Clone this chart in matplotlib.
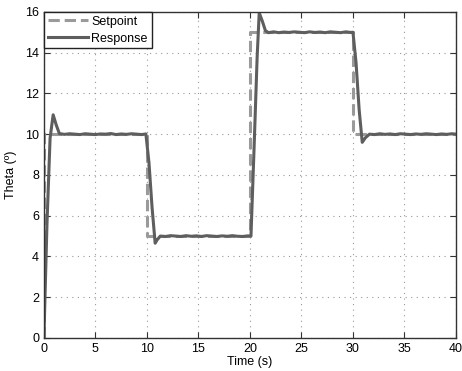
import matplotlib.pyplot as plt

plt.rcParams['font.family'] = ['Liberation Sans', 'DejaVu Sans']

# reference trajectory (step changes)
setpoint_t = [0, 0, 10, 10, 20, 20, 30, 30, 40]
setpoint_v = [0, 10, 10, 5, 5, 15, 15, 10, 10]

# measured angle
response_t = [
    0.0, 0.3, 0.6, 0.9, 1.2, 1.5, 2.0, 2.5, 3.0, 3.5, 4.0, 4.5, 5.0, 5.5,
    6.0, 6.5, 7.0, 7.5, 8.0, 8.5, 9.0, 9.5, 9.9,
    10.2, 10.5, 10.8, 11.0, 11.3, 11.8, 12.3, 12.8, 13.3, 13.8, 14.3, 14.8,
    15.3, 15.8, 16.3, 16.8, 17.3, 17.8, 18.3, 18.8, 19.3, 19.8, 20.1,
    20.4, 20.7, 20.9, 21.2, 21.5, 21.8, 22.3, 22.8, 23.3, 23.8, 24.3, 24.8,
    25.3, 25.8, 26.3, 26.8, 27.3, 27.8, 28.3, 28.8, 29.3, 29.8, 30.0,
    30.3, 30.6, 30.9, 31.2, 31.6, 32.1, 32.6, 33.1, 33.6, 34.1, 34.6,
    35.1, 35.6, 36.1, 36.6, 37.1, 37.6, 38.1, 38.6, 39.1, 39.6, 40.0,
]
response_v = [
    0.0, 5.6, 9.8, 10.95, 10.45, 10.03, 9.99, 10.02, 10.0, 9.98, 10.02, 10.0, 9.98, 10.01,
    10.0, 10.03, 9.98, 10.01, 9.99, 10.02, 10.0, 9.98, 10.01,
    8.6, 6.4, 4.65, 4.82, 5.0, 4.98, 5.02, 5.0, 4.98, 5.02, 4.99, 5.01,
    4.98, 5.02, 5.0, 4.98, 5.01, 4.99, 5.02, 4.99, 4.98, 5.01, 5.0,
    9.3, 13.8, 15.95, 15.55, 15.08, 14.98, 15.02, 14.98, 15.01, 14.99, 15.02, 15.0,
    14.98, 15.02, 14.99, 15.01, 14.98, 15.02, 15.0, 14.98, 15.02, 14.99, 15.0,
    13.5, 11.2, 9.6, 9.82, 10.0, 9.98, 10.02, 9.99, 10.01, 9.98, 10.02,
    10.0, 9.98, 10.01, 9.99, 10.02, 10.0, 9.98, 10.01, 9.99, 10.02, 10.0,
]

fig = plt.figure(figsize=(4.62, 3.71), dpi=100)
ax = fig.add_axes([0.095, 0.089, 0.892, 0.879])

ax.plot(setpoint_t, setpoint_v, '--', color='#9a9a9a', lw=2.2, label='Setpoint')
ax.plot(response_t, response_v, '-', color='#5e5e5e', lw=2.2, label='Response')

ax.set_xlim(0, 40)
ax.set_ylim(0, 16)
ax.set_xticks(range(0, 41, 5))
ax.set_yticks(range(0, 17, 2))
ax.grid(True, linestyle=(0, (1, 4)), color='#999999', lw=0.8)
ax.tick_params(direction='in', top=True, right=True, labelsize=9, length=4, color='#333333')
for s in ax.spines.values():
    s.set_color('#333333')
    s.set_linewidth(1.0)

ax.set_xlabel('Time (s)', fontsize=9, labelpad=1)
ax.set_ylabel('Theta (º)', fontsize=9, labelpad=6)

leg = ax.legend(loc='upper left', fontsize=9, fancybox=False, framealpha=1,
                edgecolor='#222222', borderpad=0.3, handlelength=3.2,
                handletextpad=0.3, borderaxespad=0, labelspacing=0.4)
leg.get_frame().set_linewidth(1.0)

fig.savefig('out.png', dpi=100)
